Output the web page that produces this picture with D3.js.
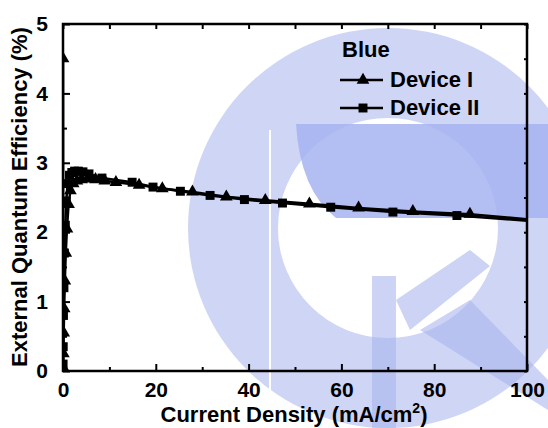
<!DOCTYPE html>
<html>
<head>
<meta charset="utf-8">
<script src="https://cdn.jsdelivr.net/npm/d3@7/dist/d3.min.js"></script>
<style>
  body { margin: 0; background: #fff; }
  text { font-family: "Liberation Sans", Arial, sans-serif; font-weight: bold; }
</style>
</head>
<body>
<div id="chart"></div>
<script>
// values
var devIx = [0.01, 0.03, 0.08, 0.15, 0.25, 0.4, 0.6, 0.85, 1.2, 1.6, 2.2, 3.0, 4.0, 5.3, 7.0, 9.0, 11.4, 16.4, 21.4, 27.9, 35.2, 43.6, 53.1, 63.7, 75.4, 87.7, 103];
var devIy = [4.5, 0.05, 0.25, 0.55, 0.9, 1.3, 1.7, 2.05, 2.4, 2.6, 2.7, 2.74, 2.76, 2.77, 2.76, 2.74, 2.72, 2.68, 2.63, 2.58, 2.51, 2.46, 2.41, 2.35, 2.30, 2.26, 2.17];

var devIIx = [0.02, 0.05, 0.1, 0.2, 0.3, 0.5, 0.7, 1.0, 1.4, 1.9, 2.5, 3.3, 4.3, 5.6, 8.4, 14.9, 19.4, 25.3, 31.7, 39.1, 47.3, 57.7, 71.1, 84.9, 103];
var devIIy = [0.1, 0.35, 0.8, 1.2, 1.7, 2.1, 2.45, 2.7, 2.82, 2.86, 2.88, 2.88, 2.87, 2.84, 2.78, 2.72, 2.65, 2.59, 2.53, 2.47, 2.42, 2.36, 2.29, 2.24, 2.15];

var xMajor = [0, 20, 40, 60, 80, 100];
var xMinor = [10, 30, 50, 70, 90];
var yMajor = [0, 1, 2, 3, 4, 5];
var yMinor = [0.5, 1.5, 2.5, 3.5, 4.5];
var legendTitle = "Blue";
var seriesNames = ["Device I", "Device II"];

var W = 548, H = 428;
var x = d3.scaleLinear().domain([0, 100]).range([63, 527]);
var y = d3.scaleLinear().domain([0, 5]).range([371, 24]);

var svg = d3.select("#chart")
  .append("svg")
  .attr("width", W)
  .attr("height", H);

// faded emblem behind the plot
var wm = svg.append("g").attr("id", "watermark");
var cx = 388, cy = 228;
wm.append("path")
  .attr("fill", "#aab6ee")
  .attr("opacity", 0.58)
  .attr("d", d3.arc()({innerRadius: 110, outerRadius: 200, startAngle: 0, endAngle: 2 * Math.PI}))
  .attr("transform", "translate(" + cx + "," + cy + ")");
wm.append("path")
  .attr("fill", "#a6b3f0")
  .attr("opacity", 0.85)
  .attr("d", "M 296 124 L 548 124 L 548 218 L 336 218 Q 300 190 296 124 Z");
wm.append("path")
  .attr("fill", "#aab6ee")
  .attr("opacity", 0.6)
  .attr("d", "M 372 276 L 396 276 L 396 428 L 372 428 Z M 396 300 L 470 250 L 490 266 L 410 330 Z M 420 330 L 470 300 L 548 380 L 548 410 Z");
wm.append("line")
  .attr("stroke", "#fff")
  .attr("stroke-width", 2)
  .attr("x1", 270).attr("x2", 270)
  .attr("y1", 130).attr("y2", 400);

svg.append("clipPath")
  .attr("id", "plot-clip")
  .append("rect")
  .attr("x", 63)
  .attr("y", 24)
  .attr("width", 464)
  .attr("height", 347);

// axes, ticks inward
function styleAxis(g) {
  g.select(".domain").remove();
  g.selectAll(".tick line").attr("stroke", "black").attr("stroke-width", 2);
  g.selectAll("text")
    .attr("fill", "black")
    .style("font-size", "21px")
    .style("font-family", "'Liberation Sans', Arial, sans-serif")
    .style("font-weight", "bold");
}

svg.append("g")
  .attr("transform", "translate(0,371)")
  .call(d3.axisBottom(x).tickValues(xMajor).tickSize(-7).tickPadding(11).tickFormat(d3.format("d")))
  .call(styleAxis);
svg.append("g")
  .attr("transform", "translate(0,371)")
  .call(d3.axisBottom(x).tickValues(xMinor).tickSize(-4).tickFormat(""))
  .call(styleAxis);
svg.append("g")
  .attr("transform", "translate(0,24)")
  .call(d3.axisTop(x).tickValues(xMajor.concat(xMinor)).tickSize(-5).tickFormat(""))
  .call(styleAxis);
svg.append("g")
  .attr("transform", "translate(63,0)")
  .call(d3.axisLeft(y).tickValues(yMajor).tickSize(-7).tickPadding(15).tickFormat(d3.format("d")))
  .call(styleAxis);
svg.append("g")
  .attr("transform", "translate(63,0)")
  .call(d3.axisLeft(y).tickValues(yMinor).tickSize(-4).tickFormat(""))
  .call(styleAxis);
svg.append("g")
  .attr("transform", "translate(527,0)")
  .call(d3.axisRight(y).tickValues(yMajor.concat(yMinor)).tickSize(-3).tickFormat(""))
  .call(styleAxis);

// frame
svg.append("rect")
  .attr("x", 63)
  .attr("y", 24)
  .attr("width", 464)
  .attr("height", 347)
  .attr("fill", "none")
  .attr("stroke", "black")
  .attr("stroke-width", 2.5);

// series
var series = [
  {name: seriesNames[0], xs: devIx, ys: devIy, sym: d3.symbolTriangle, size: 70},
  {name: seriesNames[1], xs: devIIx, ys: devIIy, sym: d3.symbolSquare, size: 80}
];

var line = d3.line()
  .x(function(d) { return x(d[0]); })
  .y(function(d) { return y(d[1]); });

var plot = svg.append("g").attr("clip-path", "url(#plot-clip)");

series.forEach(function(s) {
  var pts = d3.zip(s.xs, s.ys);
  plot.append("path")
    .datum(pts)
    .attr("fill", "none")
    .attr("stroke", "black")
    .attr("stroke-width", 2.5)
    .attr("stroke-linejoin", "round")
    .attr("d", line);
  plot.selectAll(null)
    .data(pts)
    .enter()
    .append("path")
    .attr("fill", "black")
    .attr("d", d3.symbol().type(s.sym).size(s.size))
    .attr("transform", function(d) { return "translate(" + x(d[0]) + "," + y(d[1]) + ")"; });
});

// legend
svg.append("text")
  .attr("x", 342)
  .attr("y", 57)
  .attr("fill", "black")
  .style("font-size", "22px")
  .text(legendTitle);

series.forEach(function(s, i) {
  var ly = 80 + i * 28;
  svg.append("line")
    .attr("stroke", "black")
    .attr("stroke-width", 2.5)
    .attr("x1", 340)
    .attr("x2", 383)
    .attr("y1", ly)
    .attr("y2", ly);
  svg.append("path")
    .attr("fill", "black")
    .attr("d", d3.symbol().type(s.sym).size(s.size))
    .attr("transform", "translate(363," + ly + ")");
  svg.append("text")
    .attr("x", 390)
    .attr("y", ly + 7)
    .attr("fill", "black")
    .style("font-size", "22px")
    .text(s.name);
});

// axis titles
var xt = svg.append("text")
  .attr("x", 294)
  .attr("y", 422)
  .attr("text-anchor", "middle")
  .attr("fill", "black")
  .style("font-size", "22px");
xt.append("tspan").text("Current Density (mA/cm");
xt.append("tspan").attr("dy", -9).style("font-size", "14px").text("2");
xt.append("tspan").attr("dy", 9).text(")");

svg.append("text")
  .attr("transform", "translate(27,197) rotate(-90)")
  .attr("text-anchor", "middle")
  .attr("fill", "black")
  .style("font-size", "22px")
  .text("External Quantum Efficiency (%)");
</script>
</body>
</html>
